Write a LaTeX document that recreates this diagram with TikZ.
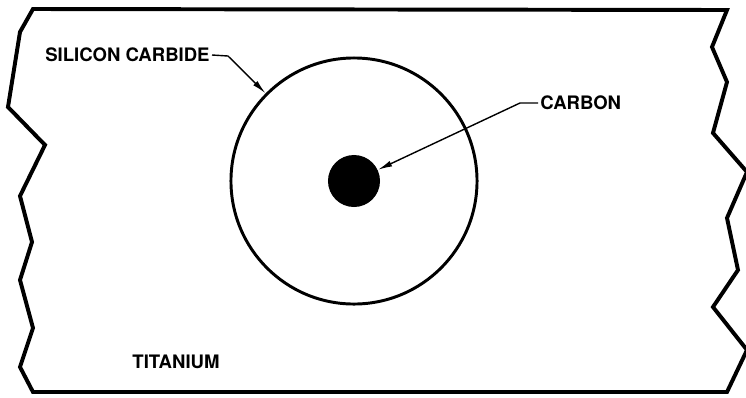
\documentclass[tikz,border=0pt]{standalone}
\usepackage{fontspec}
\setmainfont{TeX Gyre Heros}
\usetikzlibrary{arrows.meta,positioning}

\begin{document}
\begin{tikzpicture}[x=0.025cm,y=-0.025cm,
    plate/.style={draw=black,line width=2.8pt,line join=miter},
    tube/.style={circle,draw=black,line width=2.1pt,inner sep=0pt,minimum size=6.15cm},
    core/.style={circle,fill=black,inner sep=0pt,minimum size=1.3cm},
    mlabel/.style={font=\bfseries\fontsize{13.2}{15}\selectfont,inner sep=1.5pt},
    leader/.style={-{Latex[length=3.6mm,width=1.5mm]},line width=1pt}
]
\useasboundingbox (0,0) rectangle (746,397);
% titanium plate with broken ends
\draw[plate] (33,9) -- (727,10) -- (712,47) -- (727,82) -- (713,133)
    -- (747,172) -- (727,218) -- (738,270) -- (713,307) -- (747,350)
    -- (727,392) -- (33,392) -- (20,367) -- (33,328) -- (20,280)
    -- (32,242) -- (20,196) -- (45,145) -- (8,107) -- (20,32) -- cycle;
% fibre cross-section
\node[tube] (sic) at (354,181) {};
\node[core] (carbon) at (354,181) {};
% labels
\node[mlabel,anchor=east] (siclabel) at (212,55) {SILICON CARBIDE};
\node[mlabel,anchor=west] (carbonlabel) at (538,103) {CARBON};
\node[mlabel] (tilabel) at (176,362) {TITANIUM};
\coordinate (sicbend) at (228,56);
\coordinate (carbonbend) at (520,103);
\draw[leader] (siclabel.east) -- (sicbend) -- (sic);
\draw[leader] (carbonlabel.west) -- (carbonbend) -- (carbon);
\end{tikzpicture}
\end{document}
